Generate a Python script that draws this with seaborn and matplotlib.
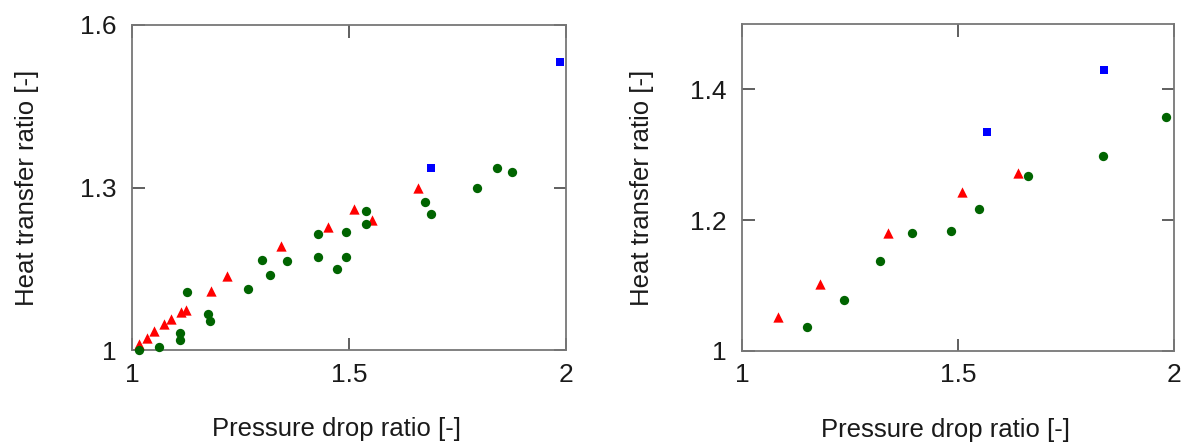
import matplotlib
matplotlib.use("Agg")
import matplotlib.pyplot as plt
import seaborn as sns
import pandas as pd

# ---- data: left panel ----
left_red_x = [1.015, 1.034, 1.051, 1.074, 1.091, 1.112, 1.124, 1.183, 1.220, 1.343, 1.451, 1.511, 1.554, 1.658]
left_red_y = [1.011, 1.022, 1.035, 1.048, 1.058, 1.070, 1.074, 1.109, 1.137, 1.192, 1.228, 1.261, 1.240, 1.299]
left_green_x = [1.016, 1.062, 1.111, 1.111, 1.127, 1.174, 1.180, 1.268, 1.300, 1.317, 1.357, 1.428, 1.429,
                1.473, 1.494, 1.494, 1.539, 1.539, 1.674, 1.689, 1.795, 1.841, 1.875]
left_green_y = [1.000, 1.006, 1.032, 1.018, 1.107, 1.066, 1.053, 1.112, 1.166, 1.139, 1.164, 1.215, 1.172,
                1.149, 1.217, 1.171, 1.257, 1.232, 1.273, 1.252, 1.299, 1.336, 1.329]
left_blue_x = [1.689, 1.987]
left_blue_y = [1.336, 1.532]

# ---- data: right panel ----
right_red_x = [1.084, 1.180, 1.337, 1.510, 1.638]
right_red_y = [1.052, 1.103, 1.181, 1.243, 1.272]
right_green_x = [1.150, 1.236, 1.320, 1.393, 1.483, 1.549, 1.663, 1.835, 1.981]
right_green_y = [1.037, 1.078, 1.137, 1.180, 1.183, 1.217, 1.267, 1.298, 1.358]
right_blue_x = [1.568, 1.837]
right_blue_y = [1.335, 1.429]

left_xticks = [1, 1.5, 2]
left_yticks = [1, 1.3, 1.6]
left_ytick_labels = ["1", "1.3", "1.6"]
right_xticks = [1, 1.5, 2]
right_yticks = [1, 1.2, 1.4]
right_ytick_labels = ["1", "1.2", "1.4"]
xtick_labels = ["1", "1.5", "2"]
xlabel = "Pressure drop ratio [-]"
ylabel = "Heat transfer ratio [-]"


def make_df(rx, ry, gx, gy, bx, by):
    rows = []
    for x, y in zip(rx, ry):
        rows.append(("red", x, y))
    for x, y in zip(gx, gy):
        rows.append(("green", x, y))
    for x, y in zip(bx, by):
        rows.append(("blue", x, y))
    return pd.DataFrame(rows, columns=["series", "x", "y"])


sns.set_style("white")
plt.rcParams["font.family"] = ["Liberation Sans", "DejaVu Sans"]

fig = plt.figure(figsize=(11.92, 4.46), dpi=100)
ax1 = fig.add_axes([132 / 1192, 1 - 350 / 446, 434 / 1192, 325 / 446])
ax2 = fig.add_axes([742 / 1192, 1 - 351 / 446, 432 / 1192, 327 / 446])

palette = {"red": "#ff0000", "green": "#006400", "blue": "#0000ff"}
markers = {"red": "^", "green": "o", "blue": "s"}
sizes = {"red": 55, "green": 45, "blue": 28}

panels = [
    (ax1, make_df(left_red_x, left_red_y, left_green_x, left_green_y, left_blue_x, left_blue_y),
     (1, 2), (1, 1.6), left_xticks, left_yticks, left_ytick_labels, 30),
    (ax2, make_df(right_red_x, right_red_y, right_green_x, right_green_y, right_blue_x, right_blue_y),
     (1, 2), (1, 1.5), right_xticks, right_yticks, right_ytick_labels, 26),
]

for ax, df, xl, yl, xt, yt, ytl, ylpad in panels:
    for s in ["red", "green", "blue"]:
        sub = df[df["series"] == s]
        sns.scatterplot(data=sub, x="x", y="y", ax=ax, color=palette[s], marker=markers[s],
                        s=sizes[s], linewidth=0, legend=False, clip_on=False, zorder=3)
    ax.set_xlim(*xl)
    ax.set_ylim(*yl)
    ax.set_xticks(xt)
    ax.set_xticklabels(xtick_labels)
    ax.set_yticks(yt)
    ax.set_yticklabels(ytl)
    for sp in ax.spines.values():
        sp.set_visible(True)
        sp.set_color("#777777")
        sp.set_linewidth(1.3)
    ax.tick_params(axis="both", which="both", direction="in", length=9, width=1.2,
                   color="#444444", labelsize=19, labelcolor="#1a1a1a",
                   top=True, right=True, bottom=True, left=True)
    ax.tick_params(axis="x", pad=9)
    ax.tick_params(axis="y", pad=11)
    ax.set_xlabel(xlabel, fontsize=18.5, color="#1a1a1a")
    ax.set_ylabel(ylabel, fontsize=18.5, labelpad=ylpad, color="#1a1a1a")
    ax.xaxis.set_label_coords(0.472, -0.205)
    ax.set_facecolor("white")

fig.savefig("out.png", dpi=100, facecolor="white")
